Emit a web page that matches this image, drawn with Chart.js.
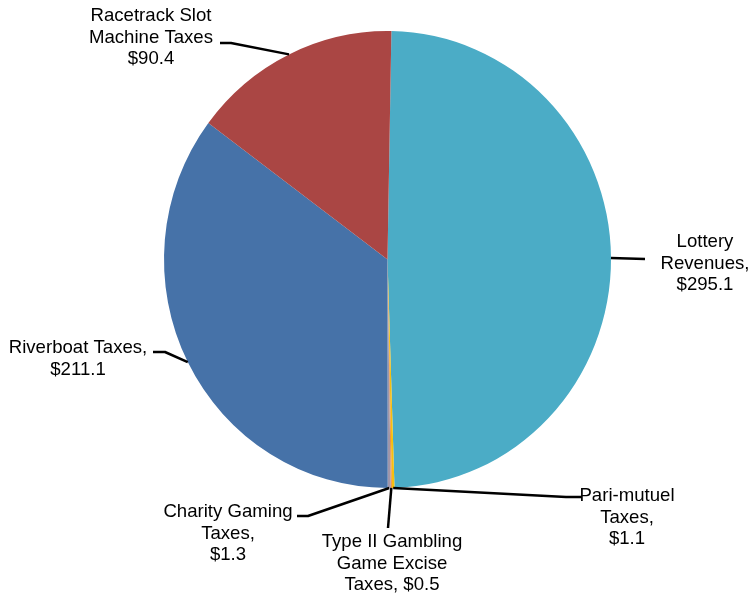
<!DOCTYPE html>
<html>
<head>
<meta charset="utf-8">
<script src="https://cdn.jsdelivr.net/npm/chart.js@4"></script>
<style>
    html, body { margin: 0; padding: 0; background: #fff; }
    #wrap { width: 754px; height: 594px; position: relative; }
</style>
</head>
<body>
<div id="wrap"><canvas id="revenueChart"></canvas></div>
<script>
// Gaming revenue by source ($ millions)
const categories = [
    'Lottery Revenues',
    'Pari-mutuel Taxes',
    'Type II Gambling Game Excise Taxes',
    'Charity Gaming Taxes',
    'Riverboat Taxes',
    'Racetrack Slot Machine Taxes'
];
const amounts = [295.1, 1.1, 0.5, 1.3, 211.1, 90.4];
const sliceColors = ['#4BACC6', '#F5C00E', '#F28A30', '#A096AA', '#4672A8', '#AA4644'];

// label text, {v} is replaced with the slice amount
const labelText = [
    'Lottery|Revenues,|{v}',
    'Pari-mutuel|Taxes,|{v}',
    'Type II Gambling|Game Excise|Taxes, {v}',
    'Charity Gaming|Taxes,|{v}',
    'Riverboat Taxes,|{v}',
    'Racetrack Slot|Machine Taxes|{v}'
];

// where each label sits and how its leader line bends
const labelLayout = [
    { x: 705, y: 242, end: [645, 259], elbow: null },
    { x: 627, y: 496, end: [582, 497], elbow: [566, 497] },
    { x: 392, y: 542, end: [388, 528], elbow: null },
    { x: 228, y: 512, end: [297, 516], elbow: [308, 516] },
    { x: 78,  y: 348, end: [153, 352], elbow: [165, 352] },
    { x: 151, y: 16,  end: [220, 43],  elbow: [231, 43] }
];

// the pie is drawn a little taller than wide
const stretchY = 457 / 447;

const stretchPlugin = {
    id: 'stretch',
    beforeDatasetsDraw(chart) {
        const arc = chart.getDatasetMeta(0).data[0];
        const ctx = chart.ctx;
        ctx.save();
        ctx.translate(arc.x, arc.y);
        ctx.scale(1, stretchY);
        ctx.translate(-arc.x, -arc.y);
    },
    afterDatasetsDraw(chart) {
        chart.ctx.restore();
    }
};

const labelPlugin = {
    id: 'sliceLabels',
    afterDraw(chart) {
        const ctx = chart.ctx;
        const arcs = chart.getDatasetMeta(0).data;
        ctx.save();
        ctx.font = '18.6px "Liberation Sans", Arial, sans-serif';
        ctx.fillStyle = '#000';
        ctx.textAlign = 'center';
        ctx.textBaseline = 'middle';
        ctx.strokeStyle = '#000';
        ctx.lineWidth = 2.5;
        ctx.lineJoin = 'round';

        arcs.forEach((arc, i) => {
            const lay = labelLayout[i];
            const mid = (arc.startAngle + arc.endAngle) / 2;
            const ax = arc.x + Math.cos(mid) * arc.outerRadius;
            const ay = arc.y + Math.sin(mid) * arc.outerRadius * stretchY;

            ctx.beginPath();
            ctx.moveTo(lay.end[0], lay.end[1]);
            if (lay.elbow) ctx.lineTo(lay.elbow[0], lay.elbow[1]);
            ctx.lineTo(ax, ay);
            ctx.stroke();

            const lines = labelText[i].replace('{v}', '$' + amounts[i].toFixed(1)).split('|');
            lines.forEach((line, j) => {
                ctx.fillText(line, lay.x, lay.y + j * 21.5);
            });
        });
        ctx.restore();
    }
};

new Chart(document.getElementById('revenueChart'), {
    type: 'pie',
    data: {
        labels: categories,
        datasets: [{
            data: amounts,
            backgroundColor: sliceColors,
            borderWidth: 0
        }]
    },
    options: {
        responsive: true,
        maintainAspectRatio: false,
        animation: false,
        rotation: 1,
        layout: {
            padding: { left: 164, right: 143, top: 36, bottom: 111 }
        },
        plugins: {
            legend: { display: false },
            tooltip: { enabled: false }
        },
        events: []
    },
    plugins: [stretchPlugin, labelPlugin]
});
</script>
</body>
</html>
